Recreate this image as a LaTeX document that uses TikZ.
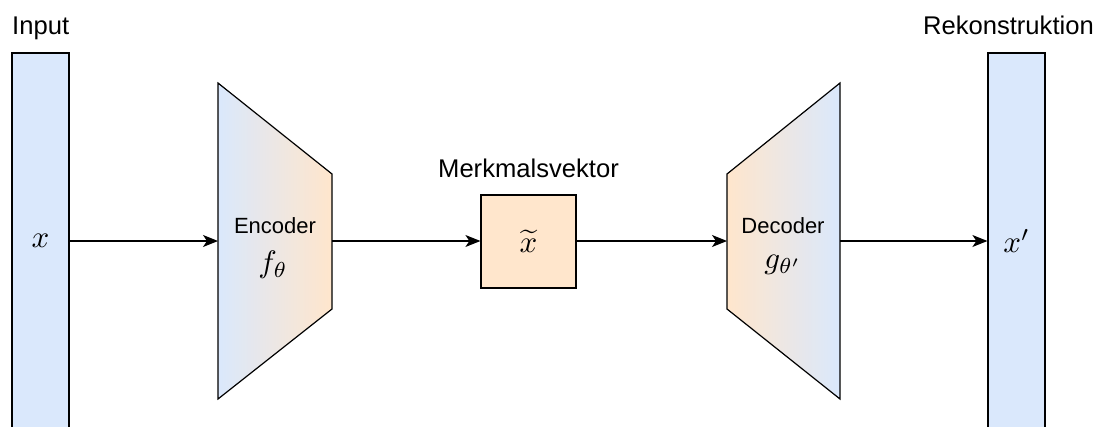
\documentclass[tikz,border=0pt]{standalone}
\usepackage{graphicx}
\usepackage{fontspec}
\setmainfont{Liberation Sans}
\usetikzlibrary{arrows.meta}

\definecolor{vecblue}{HTML}{DAE8FC}
\definecolor{vecorange}{HTML}{FFE6CC}

% math symbols set at 10pt and enlarged
\newcommand{\bigmath}[1]{\scalebox{3.1}{$#1$}}

\tikzset{
  vecbar/.style={draw=black, line width=1.2pt, fill=vecblue, minimum width=57pt,
    minimum height=376pt, inner sep=0pt, font=\fontsize{10}{12}\selectfont},
  codebox/.style={draw=black, line width=1.2pt, fill=vecorange, minimum width=95pt,
    minimum height=93pt, inner sep=0pt, font=\fontsize{10}{12}\selectfont},
  outline/.style={draw=black, line width=1.2pt, line join=miter},
  flow/.style={draw=black, line width=1.2pt,
    -{Stealth[length=15pt, width=12pt, inset=4pt]}},
  caption/.style={font=\fontsize{25.6}{30}\selectfont, inner sep=0pt},
  blocklabel/.style={font=\fontsize{22}{26}\selectfont, inner sep=0pt},
  mathlabel/.style={font=\fontsize{10}{12}\selectfont, inner sep=0pt},
}

\begin{document}
\begin{tikzpicture}[x=1pt, y=-1pt]
  \useasboundingbox (0,0) rectangle (1109,426);
  \clip (0,0) rectangle (1109,426);

  % input and reconstructed vectors
  \node[vecbar] (in) at (40.5,241) {\bigmath{x}};
  \node[vecbar] (out) at (1016.5,241) {\bigmath{x'}};
  \node[caption, anchor=base west] (inlabel) at (12,34) {Input};
  \node[caption, anchor=base east] (outlabel) at (1094,34) {Rekonstruktion};

  % encoder trapezoid, narrowing to the right
  \shade[left color=vecblue, right color=vecorange]
    (218,83) -- (332,174) -- (332,309) -- (218,399) -- cycle;
  \draw[outline] (218,83) -- (332,174) -- (332,309) -- (218,399) -- cycle;
  \coordinate (encin) at (218,241);
  \coordinate (encout) at (332,241);
  \node[blocklabel] (enctext) at (275,226) {Encoder};
  \node[mathlabel] (encfn) at (273,265) {\bigmath{f_\theta}};

  % latent feature vector
  \node[codebox] (code) at (528.5,241.5) {\bigmath{\widetilde{x}}};
  \node[caption, anchor=base] (codelabel) at (528.5,177) {Merkmalsvektor};

  % decoder trapezoid, widening to the right
  \shade[left color=vecorange, right color=vecblue]
    (727,174) -- (840,83) -- (840,399) -- (727,309) -- cycle;
  \draw[outline] (727,174) -- (840,83) -- (840,399) -- (727,309) -- cycle;
  \coordinate (decin) at (727,241);
  \coordinate (decout) at (840,241);
  \node[blocklabel] (dectext) at (783,226) {Decoder};
  \node[mathlabel] (decfn) at (783,265) {\bigmath{g_{\theta'}}};

  % data flow
  \draw[flow] (in.east |- encin) -- (encin);
  \draw[flow] (encout) -- (code.west |- encout);
  \draw[flow] (code.east |- decin) -- (decin);
  \draw[flow] (decout) -- (out.west |- decout);
\end{tikzpicture}
\end{document}
